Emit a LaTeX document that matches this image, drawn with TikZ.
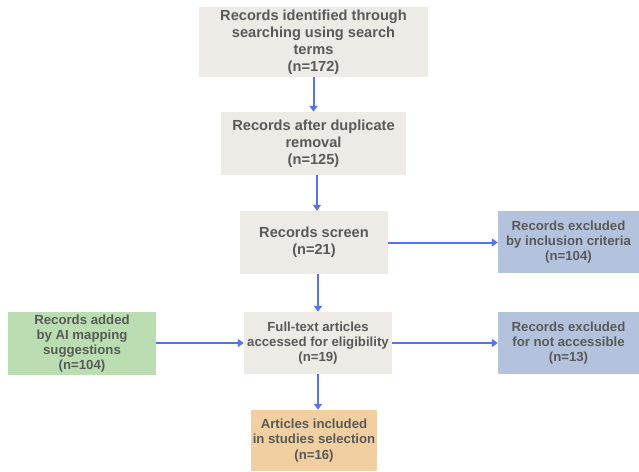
\documentclass[tikz,border=0pt]{standalone}
\usepackage{fontspec}
\setmainfont{Liberation Sans}
\usetikzlibrary{arrows.meta}
\definecolor{beige}{HTML}{EEEAE5}
\definecolor{bluegray}{HTML}{B3C2DD}
\definecolor{greenbox}{HTML}{BADEB1}
\definecolor{orangebox}{HTML}{F1CFA1}
\definecolor{txt}{HTML}{595959}
\definecolor{arrowblue}{HTML}{5472F2}
\tikzset{
  box/.style={rectangle, inner sep=0pt, align=center, text=txt, font=\bfseries\fontsize{13.2}{15.2}\selectfont},
  bigbox/.style={box, font=\bfseries\fontsize{14.6}{17}\selectfont},
  arr/.style={draw=arrowblue, line width=2pt, -{Triangle[length=6pt,width=8pt]}}
}
\begin{document}
\begin{tikzpicture}[x=1pt,y=-1pt]
\useasboundingbox (0,0) rectangle (639,471);
\node[bigbox, fill=beige, minimum width=229, minimum height=70] (b1) at (313.5,42) {Records identified through\\searching using search\\terms\\(n=172)};
\node[bigbox, fill=beige, minimum width=185, minimum height=63] (b2) at (313.5,143.5) {Records after duplicate\\removal\\(n=125)};
\node[bigbox, fill=beige, minimum width=148, minimum height=63] (b3) at (314,242.5) {Records screen\\(n=21)};
\node[box, fill=bluegray, minimum width=141, minimum height=62] (ex1) at (568.5,242) {Records excluded\\by inclusion criteria\\(n=104)};
\node[box, fill=beige, minimum width=148, minimum height=62] (b4) at (318,343) {Full-text articles\\accessed for eligibility\\(n=19)};
\node[box, fill=greenbox, minimum width=148, minimum height=63] (g) at (82,343.5) {Records added\\by AI mapping\\suggestions\\(n=104)};
\node[box, fill=bluegray, minimum width=141, minimum height=62] (ex2) at (568.5,343) {Records excluded\\for not accessible\\(n=13)};
\node[box, fill=orangebox, minimum width=126, minimum height=61] (b5) at (314,440.5) {Articles included\\in studies selection\\(n=16)};
\draw[arr] (b1.south) -- (b2.north);
\draw[arr] ([xshift=3.5]b2.south) -- ([xshift=3.5]b2.south |- b3.north);
\draw[arr] ([xshift=4]b3.south) -- (b4.north);
\draw[arr] (b4.south) -- (b4.south |- b5.north);
\draw[arr] (b3.east) -- (b3.east -| ex1.west);
\draw[arr] (g.east |- b4.west) -- (b4.west);
\draw[arr] (b4.east) -- (ex2.west);
\end{tikzpicture}
\end{document}
